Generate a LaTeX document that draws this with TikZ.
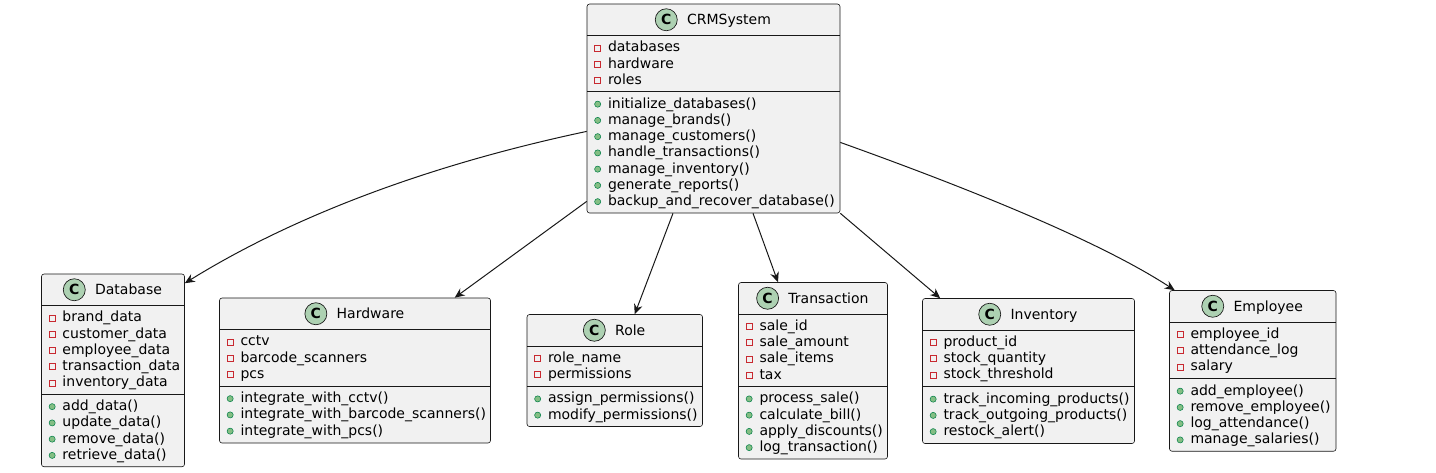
\documentclass[tikz,border=0pt]{standalone}
\usepackage{fontspec}
\setmainfont{DejaVu Sans}
\usetikzlibrary{positioning,calc,arrows.meta}

\definecolor{umlline}{HTML}{181818}
\definecolor{umlfill}{HTML}{F1F1F1}
\definecolor{umlcirc}{HTML}{ADD1B2}
\definecolor{umlred}{HTML}{C82930}
\definecolor{umlgreen}{HTML}{84BE84}
\definecolor{umldkgreen}{HTML}{038048}

\tikzset{every picture/.style={line width=0.75pt},
  classbox/.style={draw=umlline, fill=umlfill, rounded corners=1.9pt, line width=0.45pt, inner sep=0pt},
  classname/.style={inner sep=0pt, text height=7.7pt, text depth=0pt, font=\fontsize{10.5}{12}\selectfont},
  cicon/.style={circle, draw=umlline, fill=umlcirc, line width=0.5pt, minimum size=16.5pt, inner sep=0pt, font=\bfseries\fontsize{10.5}{12}\selectfont},
  member/.style={anchor=west, inner sep=0pt, text height=7.7pt, text depth=1.7pt, font=\fontsize{10.5}{12}\selectfont},
  privicon/.style={rectangle, draw=umlred, line width=0.5pt, minimum size=4.5pt, inner sep=0pt, label distance=4.875pt},
  pubicon/.style={circle, draw=umldkgreen, fill=umlgreen, line width=0.4pt, minimum size=4.6pt, inner sep=0pt, label distance=4.875pt},
  attr/.style={member, label={[privicon]left:{}}},
  meth/.style={member, label={[pubicon]left:{}}},
  sepline/.style={draw=umlline, line width=0.45pt},
  assoc/.style={draw=umlline, line width=0.75pt, -{Stealth[length=7.5pt,width=6.5pt,inset=2.5pt]}}
}

\begin{document}
\begin{tikzpicture}[x=0.75pt,y=0.75pt,yscale=-1,xscale=1]
\useasboundingbox (0,0) rectangle (1436,472);

%Class: CRMSystem [id:crm]
\node [classbox, minimum width=189.75pt, minimum height=156.75pt] (crm) at (713.5,108.5) {};
\node [classname] (crmname) at (729,19.75) {CRMSystem};
\node [cicon, left=6.75pt of crmname] (crmicon) {C};
\draw [sepline] (587,35.5) -- (840,35.5);
\draw [sepline] (587,91.75) -- (840,91.75);
\node [attr] at (607.5,47.9) {databases};
\node [attr] at (607.5,64.15) {hardware};
\node [attr] at (607.5,80.4) {roles};
\node [meth] at (607.5,104.15) {initialize\_databases()};
\node [meth] at (607.5,120.4) {manage\_brands()};
\node [meth] at (607.5,136.65) {manage\_customers()};
\node [meth] at (607.5,152.9) {handle\_transactions()};
\node [meth] at (607.5,169.15) {manage\_inventory()};
\node [meth] at (607.5,185.4) {generate\_reports()};
\node [meth] at (607.5,201.65) {backup\_and\_recover\_database()};

%Class: Database [id:db]
\node [classbox, minimum width=107.25pt, minimum height=144.56pt] (db) at (113,370.4) {};
\node [classname] (dbname) at (128.5,289.75) {Database};
\node [cicon, left=6.75pt of dbname] (dbicon) {C};
\draw [sepline] (41.5,305.5) -- (184.5,305.5);
\draw [sepline] (41.5,394.25) -- (184.5,394.25);
\node [attr] at (62,317.9) {brand\_data};
\node [attr] at (62,334.15) {customer\_data};
\node [attr] at (62,350.4) {employee\_data};
\node [attr] at (62,366.65) {transaction\_data};
\node [attr] at (62,382.9) {inventory\_data};
\node [meth] at (62,406.65) {add\_data()};
\node [meth] at (62,422.9) {update\_data()};
\node [meth] at (62,439.15) {remove\_data()};
\node [meth] at (62,455.4) {retrieve\_data()};

%Class: Hardware [id:hw]
\node [classbox, minimum width=203.25pt, minimum height=108.75pt] (hw) at (355,370.5) {};
\node [classname] (hwname) at (370.5,313.75) {Hardware};
\node [cicon, left=6.75pt of hwname] (hwicon) {C};
\draw [sepline] (219.5,329.5) -- (490.5,329.5);
\draw [sepline] (219.5,386.25) -- (490.5,386.25);
\node [attr] at (240,341.9) {cctv};
\node [attr] at (240,358.15) {barcode\_scanners};
\node [attr] at (240,374.4) {pcs};
\node [meth] at (240,398.65) {integrate\_with\_cctv()};
\node [meth] at (240,414.9) {integrate\_with\_barcode\_scanners()};
\node [meth] at (240,431.15) {integrate\_with\_pcs()};

%Class: Role [id:role]
\node [classbox, minimum width=131.63pt, minimum height=84pt] (role) at (614.75,370.5) {};
\node [classname] (rolename) at (630.25,330.25) {Role};
\node [cicon, left=6.75pt of rolename] (roleicon) {C};
\draw [sepline] (527,346) -- (702.5,346);
\draw [sepline] (527,386.5) -- (702.5,386.5);
\node [attr] at (547.5,358.4) {role\_name};
\node [attr] at (547.5,374.65) {permissions};
\node [meth] at (547.5,398.9) {assign\_permissions()};
\node [meth] at (547.5,415.15) {modify\_permissions()};

%Class: Transaction [id:tr]
\node [classbox, minimum width=111.75pt, minimum height=132.38pt] (tr) at (813,370.75) {};
\node [classname] (trname) at (828.5,298.25) {Transaction};
\node [cicon, left=6.75pt of trname] (tricon) {C};
\draw [sepline] (738.5,314) -- (887.5,314);
\draw [sepline] (738.5,386.5) -- (887.5,386.5);
\node [attr] at (759,326.4) {sale\_id};
\node [attr] at (759,342.65) {sale\_amount};
\node [attr] at (759,358.9) {sale\_items};
\node [attr] at (759,375.15) {tax};
\node [meth] at (759,398.9) {process\_sale()};
\node [meth] at (759,415.15) {calculate\_bill()};
\node [meth] at (759,431.4) {apply\_discounts()};
\node [meth] at (759,447.65) {log\_transaction()};

%Class: Inventory [id:inv]
\node [classbox, minimum width=159pt, minimum height=108.75pt] (inv) at (1028.5,371) {};
\node [classname] (invname) at (1044,314.25) {Inventory};
\node [cicon, left=6.75pt of invname] (invicon) {C};
\draw [sepline] (922.5,330) -- (1134.5,330);
\draw [sepline] (922.5,386.75) -- (1134.5,386.75);
\node [attr] at (943,342.4) {product\_id};
\node [attr] at (943,358.65) {stock\_quantity};
\node [attr] at (943,374.9) {stock\_threshold};
\node [meth] at (943,399.15) {track\_incoming\_products()};
\node [meth] at (943,415.4) {track\_outgoing\_products()};
\node [meth] at (943,431.65) {restock\_alert()};

%Class: Employee [id:emp]
\node [classbox, minimum width=124.88pt, minimum height=120.56pt] (emp) at (1252.75,370.9) {};
\node [classname] (empname) at (1268.25,306.25) {Employee};
\node [cicon, left=6.75pt of empname] (empicon) {C};
\draw [sepline] (1169.5,322) -- (1336,322);
\draw [sepline] (1169.5,378.75) -- (1336,378.75);
\node [attr] at (1190,334.4) {employee\_id};
\node [attr] at (1190,350.65) {attendance\_log};
\node [attr] at (1190,366.9) {salary};
\node [meth] at (1190,391.15) {add\_employee()};
\node [meth] at (1190,407.4) {remove\_employee()};
\node [meth] at (1190,423.65) {log\_attendance()};
\node [meth] at (1190,439.9) {manage\_salaries()};

%Curved Lines [id:crm-db]
\draw [assoc] ($(crm.north west)+(0,127.7)$) .. controls +(-170,36) and +(100,-62) .. ($(db.north east)+(0,9.5)$);
%Straight Lines [id:crm-hw]
\draw [assoc] ($(crm.north west)+(0,197.7)$) -- ($(hw.north west)+(235.5,0)$);
%Straight Lines [id:crm-role]
\draw [assoc] ($(crm.south west)+(86.3,0)$) -- ($(role.north west)+(108,0)$);
%Straight Lines [id:crm-tr]
\draw [assoc] ($(crm.south west)+(166.3,0)$) -- ($(tr.north west)+(39.8,0)$);
%Straight Lines [id:crm-inv]
\draw [assoc] (crm.south east) -- ($(inv.north west)+(18,0)$);
%Curved Lines [id:crm-emp]
\draw [assoc] ($(crm.north east)+(0,138.7)$) .. controls +(130,46.6) and +(-75,-49) .. ($(emp.north west)+(5.5,0)$);

\end{tikzpicture}
\end{document}
